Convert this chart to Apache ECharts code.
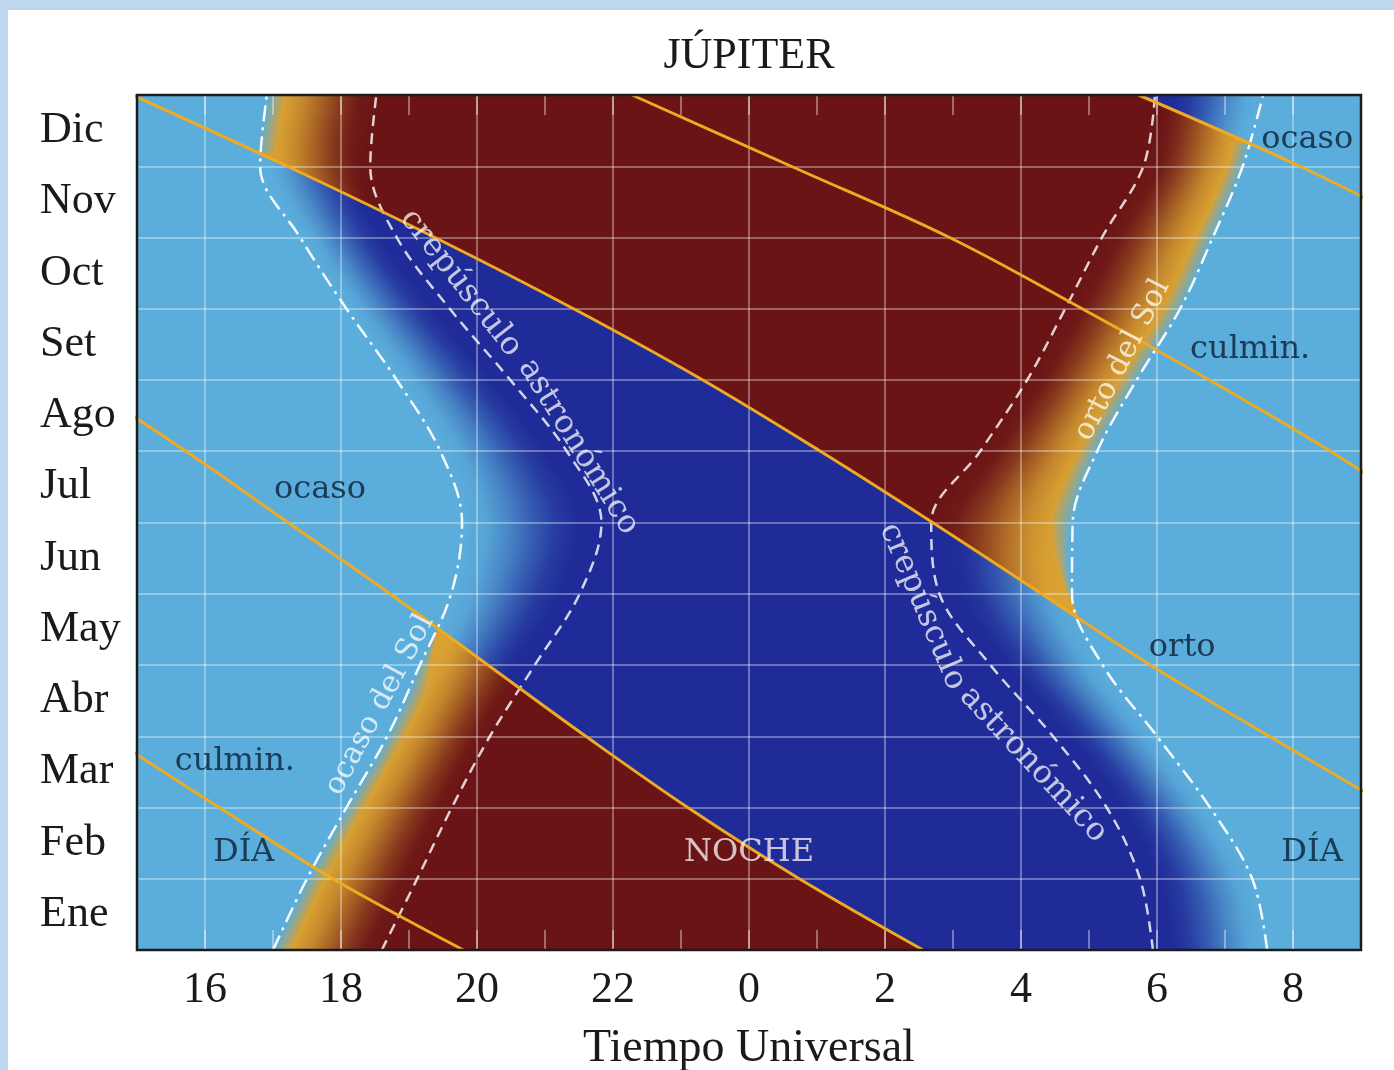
<!DOCTYPE html>
<html lang="es">
<head>
<meta charset="UTF-8">
<title>Júpiter</title>
<style>
  html, body { margin: 0; padding: 0; background: #bdd7ee; }
  #panel { position: absolute; left: 8px; top: 10px; right: 0; bottom: 0; background: #fff; }
  #main { position: absolute; left: 0; top: 0; width: 1394px; height: 1070px; }
</style>
</head>
<body>
<div id="panel"></div>
<div id="main"></div>
<script src="https://cdn.jsdelivr.net/npm/echarts@6/dist/echarts.min.js"></script>
<script>
// month boundaries (0 = 1 Ene ... 12 = 31 Dic)
var monthPos = [0, 1, 2, 3, 4, 5, 6, 7, 8, 9, 10, 11, 12];
var monthNames = ['Ene', 'Feb', 'Mar', 'Abr', 'May', 'Jun', 'Jul', 'Ago', 'Set', 'Oct', 'Nov', 'Dic'];

// Sol, hora UT (despues de medianoche se cuenta 24+)
var sunset    = [17.0, 17.5, 18.08, 18.68, 19.16, 19.62, 19.78, 19.46, 18.82, 18.08, 17.4, 16.81, 16.91];
var duskAstro = [18.6, 19.12, 19.63, 20.19, 20.85, 21.51, 21.83, 21.32, 20.49, 19.6, 18.82, 18.43, 18.52];
var dawnAstro = [29.94, 29.75, 29.26, 28.47, 27.55, 26.8, 26.68, 27.4, 28.09, 28.65, 29.19, 29.8, 29.97];
var sunrise   = [31.62, 31.4, 30.78, 30.0, 29.2, 28.75, 28.76, 29.12, 29.7, 30.34, 30.82, 31.26, 31.56];

// Jupiter, hora UT sin envolver (se resta 24 para traerla a la ventana)
var jupRise = [37.2, 35.3, 33.45, 31.65, 29.9, 28.3, 26.7, 25.05, 23.32, 21.42, 19.38, 17.21, 14.93];
var jupCulm = [43.8, 41.88, 40.21, 38.6, 37.2, 35.7, 34.15, 32.55, 30.77, 28.9, 26.95, 24.62, 22.28];
var jupSet  = [50.56, 48.74, 47.1, 45.6, 44.16, 42.72, 41.22, 39.72, 38.1, 36.2, 34.2, 32.1, 29.73];

var T0 = 15, T1 = 33;

var DAY = [91, 174, 219], NIGHT = [31, 43, 152], GOLD = [218, 162, 50], RED = [106, 20, 22];

// catmull-rom between monthly values
function curveAt(arr, m) {
    var n = arr.length - 1;
    var i = Math.max(0, Math.min(n - 1, Math.floor(m)));
    var u = m - i;
    var p0 = arr[Math.max(i - 1, 0)], p1 = arr[i], p2 = arr[i + 1], p3 = arr[Math.min(i + 2, n)];
    if (i === 0) p0 = 2 * p1 - p2;
    if (i + 1 === n) p3 = 2 * p2 - p1;
    return 0.5 * ((2 * p1) + (-p0 + p2) * u + (2 * p0 - 5 * p1 + 4 * p2 - p3) * u * u + (-p0 + 3 * p1 - 3 * p2 + p3) * u * u * u);
}

function smooth(a, b, x) {
    var k = Math.max(0, Math.min(1, (x - a) / (b - a)));
    return k * k * (3 - 2 * k);
}

function mix(c1, c2, k) {
    return 'rgb(' + [0, 1, 2].map(function (j) { return Math.round(c1[j] + (c2[j] - c1[j]) * k); }).join(',') + ')';
}

function colorAt(t, up, c) {
    if (t <= c.s || t >= c.r) return mix(DAY, DAY, 0);
    if (t >= c.d && t <= c.a) return up ? mix(RED, RED, 0) : mix(NIGHT, NIGHT, 0);
    var f = t < c.d ? (t - c.s) / (c.d - c.s) : (c.r - t) / (c.r - c.a);
    if (up) return mix(GOLD, RED, smooth(0.1, 0.95, f));
    return mix(DAY, NIGHT, smooth(0.03, 0.85, f));
}

function jupiterUp(t, c) {
    var d = ((t - c.jr) % 24 + 24) % 24;
    return d < (c.js - c.jr);
}

function renderRow(params, api) {
    var mLo = api.value(0), mHi = api.value(1), m = (mLo + mHi) / 2;
    var c = {
        s: curveAt(sunset, m), d: curveAt(duskAstro, m),
        a: curveAt(dawnAstro, m), r: curveAt(sunrise, m),
        jr: curveAt(jupRise, m), js: curveAt(jupSet, m)
    };
    var cuts = [T0, T1, c.s, c.d, c.a, c.r];
    for (var k = -1; k <= 2; k++) {
        cuts.push(c.jr - 24 * k, c.js - 24 * k);
    }
    cuts = cuts.filter(function (v) { return v >= T0 && v <= T1; }).sort(function (p, q) { return p - q; });
    var yTop = api.coord([T0, mHi])[1], yBot = api.coord([T0, mLo])[1];
    var children = [];
    for (var i = 0; i < cuts.length - 1; i++) {
        var t0 = cuts[i], t1 = cuts[i + 1];
        if (t1 - t0 < 1e-6) continue;
        var up = jupiterUp((t0 + t1) / 2, c);
        var x0 = api.coord([t0, m])[0], x1 = api.coord([t1, m])[0];
        var stops = [];
        for (var j = 0; j <= 6; j++) {
            stops.push({ offset: j / 6, color: colorAt(t0 + (t1 - t0) * j / 6, up, c) });
        }
        children.push({
            type: 'rect',
            shape: { x: x0, y: yTop - 0.6, width: x1 - x0 + 0.5, height: yBot - yTop + 1.2 },
            style: { fill: new echarts.graphic.LinearGradient(0, 0, 1, 0, stops) }
        });
    }
    return { type: 'group', children: children };
}

var rows = [];
var nRows = 480;
for (var i = 0; i < nRows; i++) {
    rows.push([12 * i / nRows, 12 * (i + 1) / nRows]);
}

function curveData(arr, shift) {
    return monthPos.map(function (m, i) { return [arr[i] - shift, m]; });
}

var series = [{
    type: 'custom',
    renderItem: renderRow,
    data: rows,
    encode: { y: [0, 1] },
    z: 1,
    silent: true,
    progressive: 0
}];

// lineas del Sol
var sunLines = [
    [sunset, [16, 6, 3, 6], 0.95],
    [sunrise, [16, 6, 3, 6], 0.95],
    [duskAstro, [11, 7], 0.8],
    [dawnAstro, [11, 7], 0.8]
];
sunLines.forEach(function (l) {
    series.push({
        type: 'line',
        data: curveData(l[0], 0),
        smooth: 0.35,
        showSymbol: false,
        z: 4,
        silent: true,
        lineStyle: { color: 'rgba(255,255,255,' + l[2] + ')', width: 2.5, type: l[1] }
    });
});

// lineas de Jupiter
[jupRise, jupCulm, jupSet].forEach(function (arr) {
    [0, 24].forEach(function (shift) {
        series.push({
            type: 'line',
            data: curveData(arr, shift),
            smooth: 0.35,
            showSymbol: false,
            clip: true,
            z: 5,
            silent: true,
            lineStyle: { color: '#eeaa22', width: 3 }
        });
    });
});

// rotulos
var dark = '#0b1e35', light = 'rgba(255,255,255,0.92)';
var notes = [
    { name: 'ocaso', value: [32.21, 11.37], color: dark, rotate: 0 },
    { name: 'culmin.', value: [31.37, 8.42], color: dark, rotate: 0 },
    { name: 'orto', value: [30.37, 4.25], color: dark, rotate: 0 },
    { name: 'DÍA', value: [32.28, 1.36], color: dark, rotate: 0 },
    { name: 'NOCHE', value: [24.0, 1.36], color: '#f4ecec', rotate: 0 },
    { name: 'DÍA', value: [16.57, 1.36], color: dark, rotate: 0 },
    { name: 'culmin.', value: [16.44, 2.64], color: dark, rotate: 0 },
    { name: 'ocaso', value: [17.69, 6.46], color: dark, rotate: 0 },
    { name: 'crepúsculo', value: [19.76, 9.36], color: light, rotate: -52 },
    { name: 'astronómico', value: [21.49, 7.06], color: light, rotate: -58 },
    { name: 'crepúsculo', value: [26.55, 4.82], color: light, rotate: -67 },
    { name: 'astronómico', value: [28.18, 2.6], color: light, rotate: -47 },
    { name: 'ocaso del Sol', value: [18.57, 3.44], color: light, rotate: 62, size: 30 },
    { name: 'orto del Sol', value: [29.49, 8.28], color: light, rotate: 63, size: 30 }
];
series.push({
    type: 'scatter',
    z: 6,
    silent: true,
    symbolSize: 1,
    itemStyle: { color: 'rgba(0,0,0,0)' },
    data: notes.map(function (n) {
        return {
            name: n.name,
            value: n.value,
            label: {
                show: true,
                position: 'inside',
                formatter: '{b}',
                rotate: n.rotate,
                color: n.color,
                fontFamily: 'DejaVu Serif',
                fontSize: n.size || 32
            }
        };
    })
});

var axisFont = 'Liberation Serif';

var myChart = echarts.init(document.getElementById('main'));
var option = {
    animation: false,
    grid: {
        left: 137, top: 95, width: 1224, height: 855,
        outerBoundsMode: 'none', containLabel: false,
        show: true, backgroundColor: 'transparent',
        borderColor: '#1c1c1c', borderWidth: 2.5, z: 7
    },
    graphic: [{
        type: 'text',
        x: 749, y: 56,
        style: {
            text: 'JÚPITER', align: 'center', verticalAlign: 'middle',
            fontFamily: axisFont, fontSize: 44, fill: '#1a1a1a'
        }
    }],
    xAxis: [{
        type: 'value', min: T0, max: T1, interval: 1, z: 3,
        name: 'Tiempo Universal', nameLocation: 'middle', nameGap: 76,
        nameTextStyle: { fontFamily: axisFont, fontSize: 46, color: '#1a1a1a' },
        axisLine: { show: false },
        axisTick: { inside: true, length: 20, lineStyle: { color: 'rgba(255,255,255,0.5)', width: 1.5 } },
        axisLabel: {
            margin: 18, fontFamily: axisFont, fontSize: 44, color: '#1a1a1a',
            formatter: function (v) { return v % 2 === 0 ? String(v % 24) : ''; }
        },
        splitLine: {
            show: true, showMinLine: true, showMaxLine: true,
            lineStyle: { color: ['rgba(255,255,255,0)', 'rgba(255,255,255,0.45)'], width: 1.5 }
        }
    }, {
        type: 'value', min: T0, max: T1, interval: 1, position: 'top', z: 3,
        axisLine: { show: false },
        axisTick: { inside: true, length: 20, lineStyle: { color: 'rgba(255,255,255,0.5)', width: 1.5 } },
        axisLabel: { show: false },
        splitLine: { show: false }
    }],
    yAxis: [{
        type: 'value', min: 0, max: 12, interval: 1, z: 3,
        axisLine: { show: false }, axisTick: { show: false }, axisLabel: { show: false },
        splitLine: { show: true, lineStyle: { color: 'rgba(255,255,255,0.45)', width: 1.5 } }
    }, {
        type: 'category', data: monthNames, position: 'left', boundaryGap: true, z: 3,
        axisLine: { show: false }, axisTick: { show: false }, splitLine: { show: false },
        axisLabel: { align: 'left', margin: 97, fontFamily: axisFont, fontSize: 44, color: '#1a1a1a' }
    }],
    series: series
};
myChart.setOption(option);
</script>
</body>
</html>
